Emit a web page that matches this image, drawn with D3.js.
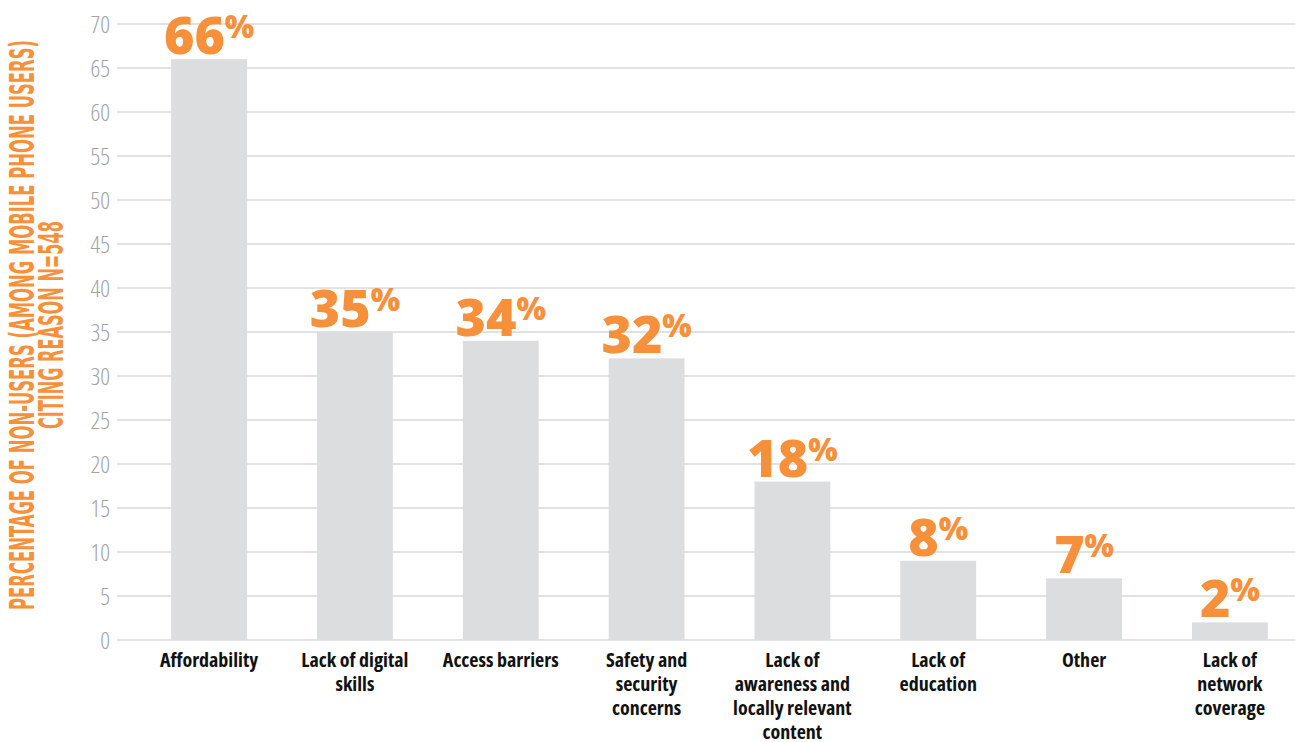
<!DOCTYPE html>
<html lang="en">
<head>
  <meta charset="UTF-8" />
  <title>Reasons for not using mobile internet</title>
  <script src="https://d3js.org/d3.v7.min.js"></script>
  <style>
    body { margin: 0; background: #fff; }
    svg { display: block; }
    .tick-label { font-family: "Open Sans", sans-serif; font-weight: 300; font-size: 24px; font-stretch: 75%; fill: #a3a3a3; }
    .cat { font-family: "Open Sans", sans-serif; font-weight: 700; font-size: 20px; font-stretch: 86%; fill: #111; }
    .val { font-family: "Open Sans", sans-serif; font-weight: 800; fill: #f7903a; }
    .ytitle { font-family: "DejaVu Sans Condensed", "DejaVu Sans", sans-serif; font-weight: 700; font-size: 33px; fill: #f7903a; }
  </style>
</head>
<body>
  <svg width="1295" height="742"></svg>
  <script>
    // chart data
    const categories = [
      ["Affordability"],
      ["Lack of digital", "skills"],
      ["Access barriers"],
      ["Safety and", "security", "concerns"],
      ["Lack of", "awareness and", "locally relevant", "content"],
      ["Lack of", "education"],
      ["Other"],
      ["Lack of", "network", "coverage"]
    ];
    const barValues = [66, 35, 34, 32, 18, 9, 7, 2];
    const valueLabels = ["66", "35", "34", "32", "18", "8", "7", "2"];
    const yTicks = d3.range(0, 75, 5);
    const titleLines = ["PERCENTAGE OF NON-USERS (AMONG MOBILE PHONE USERS)", "CITING REASON N=548"];

    const svg = d3.select("svg");

    const y = d3.scaleLinear().domain([0, 70]).range([640, 24]);
    const x = d3.scaleBand()
      .domain(d3.range(categories.length))
      .range([142, 1297])
      .paddingInner(0.48)
      .paddingOuter(0.2);

    // gridlines + tick labels
    svg.append("g").selectAll("line")
      .data(yTicks)
      .join("line")
      .attr("x1", 117).attr("x2", 1295)
      .attr("y1", d => y(d)).attr("y2", d => y(d))
      .attr("stroke", "#d9d9d9")
      .attr("stroke-width", 1.5);

    svg.append("g").selectAll("text")
      .data(yTicks)
      .join("text")
      .attr("class", "tick-label")
      .attr("x", 110)
      .attr("y", d => y(d))
      .attr("dy", "0.36em")
      .attr("text-anchor", "end")
      .text(d => d);

    // bars
    svg.append("g").selectAll("rect")
      .data(barValues)
      .join("rect")
      .attr("x", (d, i) => x(i))
      .attr("y", d => y(d))
      .attr("width", x.bandwidth())
      .attr("height", d => y(0) - y(d))
      .attr("fill", "#dcdddf");

    // value labels (number + superscript %)
    const vals = svg.append("g").selectAll("text")
      .data(barValues)
      .join("text")
      .attr("class", "val")
      .attr("x", (d, i) => x(i) + x.bandwidth() / 2)
      .attr("y", d => y(d) - 5)
      .attr("text-anchor", "middle");
    vals.append("tspan")
      .attr("font-size", 52)
      .text((d, i) => valueLabels[i]);
    vals.append("tspan")
      .attr("font-size", 31)
      .attr("dy", -16)
      .text("%");

    // category labels
    const cats = svg.append("g").selectAll("text")
      .data(categories)
      .join("text")
      .attr("class", "cat")
      .attr("text-anchor", "middle")
      .attr("x", (d, i) => x(i) + x.bandwidth() / 2)
      .attr("y", 667);
    cats.selectAll("tspan")
      .data(d => d)
      .join("tspan")
      .attr("x", function () { return this.parentNode.getAttribute("x"); })
      .attr("dy", (d, i) => i === 0 ? 0 : 24)
      .text(d => d);

    // y axis title
    const title = svg.append("text")
      .attr("class", "ytitle")
      .attr("transform", "translate(0,325) rotate(-90)")
      .attr("text-anchor", "middle");
    title.selectAll("tspan")
      .data(titleLines)
      .join("tspan")
      .attr("x", 0)
      .attr("y", (d, i) => i === 0 ? 34 : 63)
      .attr("textLength", (d, i) => i === 0 ? 570 : 208)
      .attr("lengthAdjust", "spacingAndGlyphs")
      .text(d => d);
  </script>
</body>
</html>
